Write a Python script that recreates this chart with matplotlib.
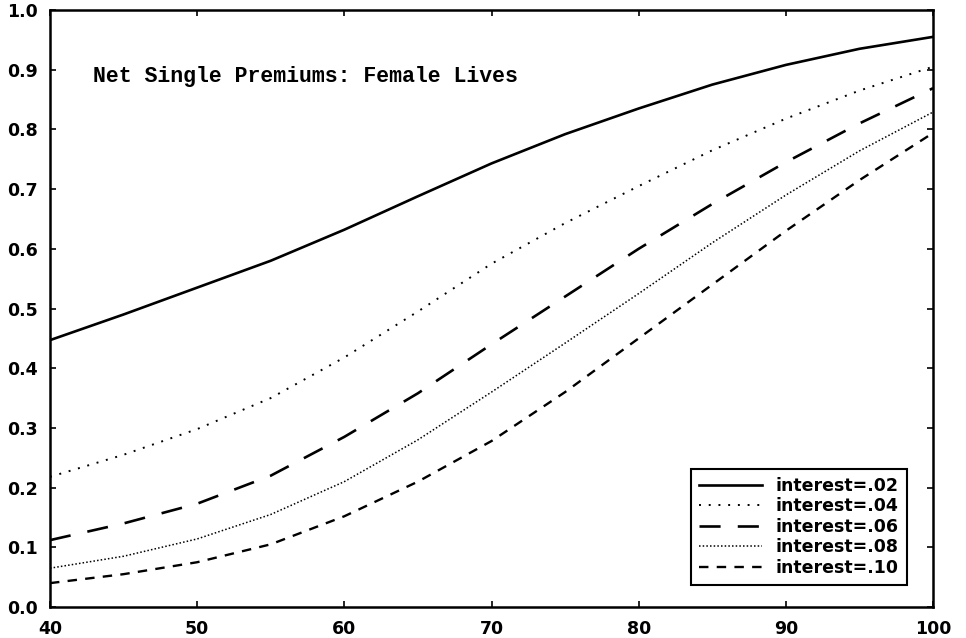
import matplotlib.pyplot as plt
import numpy as np

# ages on the x axis
ages = [40, 45, 50, 55, 60, 65, 70, 75, 80, 85, 90, 95, 100]

# net single premiums, one list per interest rate
nsp_02 = [0.447, 0.490, 0.535, 0.580, 0.632, 0.688, 0.743, 0.792, 0.835, 0.875, 0.908, 0.935, 0.955]
nsp_04 = [0.218, 0.255, 0.298, 0.350, 0.418, 0.495, 0.575, 0.643, 0.705, 0.765, 0.818, 0.865, 0.905]
nsp_06 = [0.112, 0.140, 0.173, 0.220, 0.285, 0.358, 0.440, 0.520, 0.600, 0.675, 0.745, 0.810, 0.869]
nsp_08 = [0.065, 0.085, 0.114, 0.155, 0.210, 0.280, 0.360, 0.442, 0.525, 0.610, 0.690, 0.764, 0.829]
nsp_10 = [0.040, 0.055, 0.075, 0.105, 0.152, 0.210, 0.278, 0.360, 0.450, 0.540, 0.630, 0.715, 0.794]

labels = ["interest=.02", "interest=.04", "interest=.06", "interest=.08", "interest=.10"]
xticks = [40, 50, 60, 70, 80, 90, 100]
yticks = [0.0, 0.1, 0.2, 0.3, 0.4, 0.5, 0.6, 0.7, 0.8, 0.9, 1.0]

fig = plt.figure(figsize=(9.66, 6.38), dpi=100)
ax = fig.add_axes([50/966, 31/638, 883/966, 597/638])

ax.plot(ages, nsp_02, color="black", lw=1.9, linestyle="-", label=labels[0])
ax.plot(ages, nsp_04, color="black", lw=1.4, linestyle=(0, (1, 4)), label=labels[1])
ax.plot(ages, nsp_06, color="black", lw=1.9, linestyle=(0, (8, 6.5)), label=labels[2])
ax.plot(ages, nsp_08, color="black", lw=1.1, linestyle=(0, (1, 1.4)), label=labels[3])
ax.plot(ages, nsp_10, color="black", lw=1.7, linestyle=(0, (4, 3.5)), label=labels[4])

ax.set_xlim(40, 100)
ax.set_ylim(0, 1)
ax.set_xticks(xticks)
ax.set_yticks(yticks)
ax.set_xticklabels([str(t) for t in xticks])
ax.set_yticklabels(["%.1f" % t for t in yticks])

for s in ax.spines.values():
    s.set_linewidth(1.8)
ax.tick_params(direction="in", length=4.5, width=1.2, top=True, right=True, pad=9)
for lab in ax.get_xticklabels() + ax.get_yticklabels():
    lab.set_fontsize(12.5)
    lab.set_fontweight("bold")
    lab.set_family("DejaVu Sans")

ax.text(0.049, 0.889, "Net Single Premiums: Female Lives", transform=ax.transAxes,
        fontsize=15.5, family="Liberation Mono", fontweight="bold", va="center", ha="left")

leg = ax.legend(loc="lower right", bbox_to_anchor=(0.970, 0.037), frameon=True,
                fancybox=False, edgecolor="black", handlelength=3.6, handletextpad=0.8,
                labelspacing=0.15, borderpad=0.45, borderaxespad=0,
                prop={"family": "DejaVu Sans", "weight": "bold", "size": 12.5})
leg.get_frame().set_linewidth(1.5)
leg.get_frame().set_alpha(1)

fig.savefig("out.png", dpi=100)
